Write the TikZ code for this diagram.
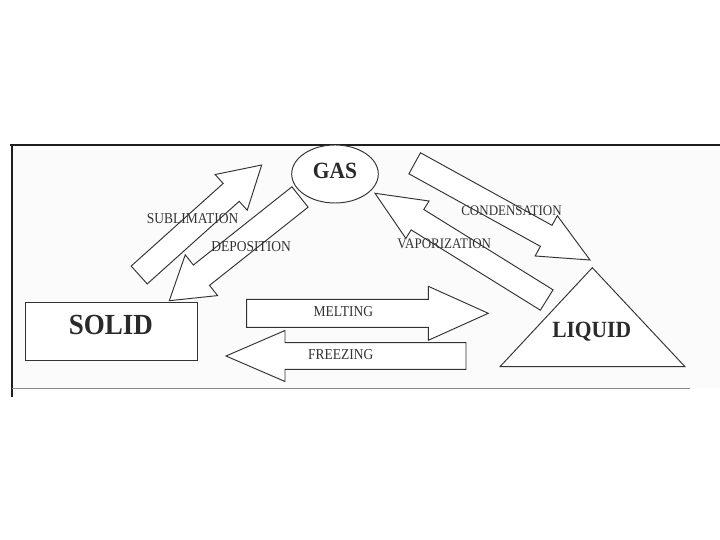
\documentclass[tikz,border=0pt]{standalone}
\usepackage{fontspec}
\setmainfont{Liberation Serif}
\usetikzlibrary{calc,shapes.geometric}
\definecolor{ink}{HTML}{333333}
\definecolor{titleink}{HTML}{2A2A2A}
\definecolor{framecol}{HTML}{1E1E1E}
\definecolor{paper}{HTML}{FBFBFB}
% #1 name, #2 tail coordinate, #3 tip coordinate, #4 shaft half width, #5 head half width, #6 head length
\newcommand{\blockarr}[6]{%
  \coordinate (#1n) at ($(#3)!#6!(#2)$);
  \filldraw[arrowbox] ($(#2)!#4!90:(#3)$) -- ($(#1n)!#4!90:(#3)$) -- ($(#1n)!#5!90:(#3)$) -- (#3)
    -- ($(#1n)!#5!-90:(#3)$) -- ($(#1n)!#4!-90:(#3)$) -- ($(#2)!#4!-90:(#3)$) -- cycle;
}
\begin{document}
\begin{tikzpicture}[x=1pt,y=-1pt,
  arrowbox/.style={draw=ink, fill=white, line width=0.95pt, line join=miter},
  shapebox/.style={draw=ink, fill=white, line width=0.95pt},
  lbl/.style={text=ink, font=\fontsize{13.5}{15}\selectfont, inner sep=0pt, yscale=1.12, transform shape},
  lblsm/.style={text=ink, font=\fontsize{13}{15}\selectfont, inner sep=0pt, yscale=1.12, transform shape},
  title/.style={text=titleink, inner sep=0pt, yscale=1.08, transform shape}]
\useasboundingbox (0,0) rectangle (720,540);
\fill[white] (0,0) rectangle (720,540);
\fill[paper] (12,145) rectangle (720,388);
% scanned page frame
\draw[framecol, line width=2.2pt] (10,145) -- (720,145);
\draw[framecol, line width=2pt] (12,144) -- (12,397);
\draw[black!45, line width=0.8pt] (12,388) -- (690,388);

% arrow end points
\coordinate (subT) at (139.2,275);   \coordinate (subH) at (261.7,165);
\coordinate (depT) at (300,197);     \coordinate (depH) at (169.3,300.7);
\coordinate (conT) at (414.7,163.3); \coordinate (conH) at (590,260);
\coordinate (vapT) at (546.7,300);   \coordinate (vapH) at (375,193.3);
\coordinate (melT) at (246.7,313.3); \coordinate (melH) at (488.3,313.3);
\coordinate (frzT) at (466,356);     \coordinate (frzH) at (226,356);

\blockarr{sub}{subT}{subH}{12pt}{24pt}{41pt}
\blockarr{dep}{depT}{depH}{13pt}{26pt}{41pt}
\blockarr{con}{conT}{conH}{12pt}{23pt}{50pt}
\blockarr{vap}{vapT}{vapH}{12pt}{22pt}{50pt}
\blockarr{mel}{melT}{melH}{14pt}{27pt}{60pt}
\blockarr{frz}{frzT}{frzH}{13.3pt}{25.5pt}{59pt}

% states
\node[shapebox, ellipse, minimum width=86.6pt, minimum height=58pt, inner sep=0pt] (gas) at (335,174) {};
\node[title, font=\bfseries\fontsize{21.5}{24}\selectfont] (gastxt) at (335,171) {GAS};

\node[shapebox, rectangle, minimum width=172.3pt, minimum height=58pt, inner sep=0pt] (solid) at (111.2,331.7) {};
\node[title, font=\bfseries\fontsize{27}{30}\selectfont] (solidtxt) at (110.8,325) {SOLID};

\coordinate (liqA) at (592.3,267.7);
\coordinate (liqB) at (500,366.7);
\coordinate (liqC) at (685,366.7);
\filldraw[shapebox] (liqA) -- (liqB) -- (liqC) -- cycle;
\node[title, font=\bfseries\fontsize{21.5}{24}\selectfont] (liqtxt) at (591.7,331.7) {LIQUID};

% process labels
\node[lbl] (sublbl) at (192.7,218.5) {SUBLIMATION};
\node[lbl] (deplbl) at (251.2,246.5) {DEPOSITION};
\node[lblsm] (conlbl) at (511.5,211) {CONDENSATION};
\node[lblsm] (vaplbl) at (444.3,243.8) {VAPORIZATION};
\node[lbl] (mellbl) at (343.3,312) {MELTING};
\node[lbl] (frzlbl) at (340.7,354.5) {FREEZING};
\end{tikzpicture}
\end{document}
